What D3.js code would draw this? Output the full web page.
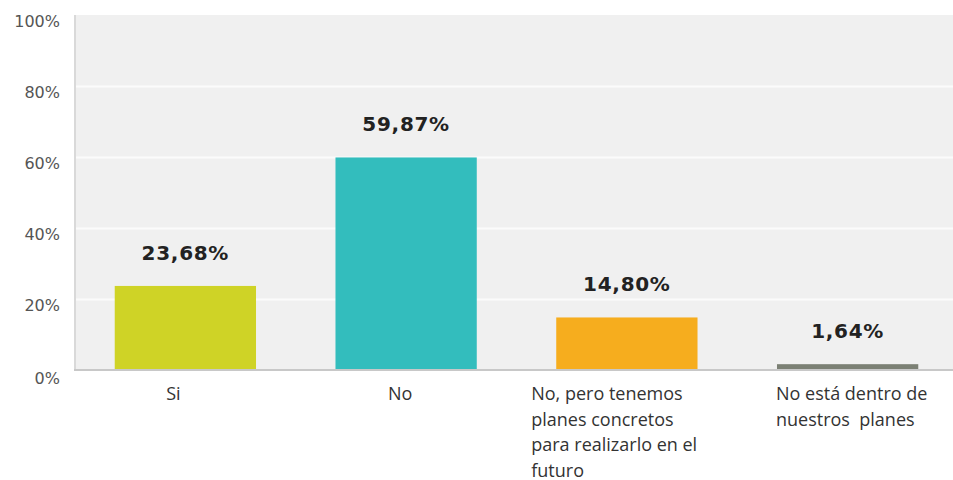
<!DOCTYPE html>
<html>
<head>
<meta charset="utf-8">
<script src="https://cdn.jsdelivr.net/npm/d3@7/dist/d3.min.js"></script>
<style>
  html, body { margin: 0; padding: 0; background: #ffffff; }
  svg { display: block; }
</style>
</head>
<body>
<div id="chart"></div>
<script>
// Survey answers and their shares (percent)
const categories = [
  "Si",
  "No",
  "No, pero tenemos planes concretos para realizarlo en el futuro",
  "No está dentro de nuestros planes"
];
const values = [23.68, 59.87, 14.80, 1.64];
const valueLabels = ["23,68%", "59,87%", "14,80%", "1,64%"];
const colors = ["#cfd326", "#33bdbd", "#f6ad1e", "#7b8074"];
const yTicks = [0, 20, 40, 60, 80, 100];
const yTickLabels = ["0%", "20%", "40%", "60%", "80%", "100%"];
// Manual line breaks for the category labels
const categoryLines = [
  ["Si"],
  ["No"],
  ["No, pero tenemos", "planes concretos", "para realizarlo en el", "futuro"],
  ["No está dentro de", "nuestros  planes"]
];

const W = 953, H = 480;
const plot = { left: 75, right: 958, top: 15, bottom: 370 };

const svg = d3.select("#chart").append("svg")
  .attr("width", W).attr("height", H);

const x = d3.scaleBand()
  .domain(categories)
  .range([plot.left, plot.right])
  .paddingInner(0.36)
  .paddingOuter(0.18);

const y = d3.scaleLinear()
  .domain([0, 100])
  .range([plot.bottom, plot.top]);

// Plot background
svg.append("rect")
  .attr("x", plot.left).attr("y", plot.top)
  .attr("width", W - plot.left).attr("height", plot.bottom - plot.top)
  .attr("fill", "#f0f0f0");

// Horizontal gridlines and percentage ticks
const yAxis = d3.axisLeft(y)
  .tickValues(yTicks)
  .tickSize(-(W - plot.left))
  .tickFormat((d, i) => yTickLabels[i]);

const gy = svg.append("g")
  .attr("transform", `translate(${plot.left},0)`)
  .call(yAxis);
gy.select(".domain").remove();
gy.selectAll(".tick line")
  .attr("stroke", "#fbfbfb")
  .attr("stroke-width", 2)
  .filter(d => d === 0 || d === 100).remove();
gy.selectAll(".tick text")
  .attr("x", -15)
  .attr("dy", "0.7em")
  .attr("fill", "#555")
  .style("font-family", "'DejaVu Sans', Verdana, sans-serif")
  .style("font-size", "16px");
gy.selectAll(".tick").filter(d => d === 0).select("text").attr("dy", "0.85em");

// Left border of the plot
svg.append("line")
  .attr("x1", plot.left).attr("x2", plot.left)
  .attr("y1", plot.top).attr("y2", plot.bottom)
  .attr("stroke", "#d9d9d9").attr("stroke-width", 2);

// Bars
svg.append("g").selectAll("rect")
  .data(values)
  .join("rect")
  .attr("x", (d, i) => x(categories[i]))
  .attr("y", d => y(d))
  .attr("width", x.bandwidth())
  .attr("height", d => y(0) - y(d))
  .attr("fill", (d, i) => colors[i]);

// Baseline
svg.append("line")
  .attr("x1", plot.left - 1).attr("x2", W)
  .attr("y1", plot.bottom).attr("y2", plot.bottom)
  .attr("stroke", "#c8c8c8").attr("stroke-width", 2);

// Value labels above bars
svg.append("g").selectAll("text")
  .data(values)
  .join("text")
  .attr("x", (d, i) => x(categories[i]) + x.bandwidth() / 2)
  .attr("y", d => y(d) - 26)
  .attr("text-anchor", "middle")
  .attr("fill", "#222")
  .style("font-family", "'DejaVu Sans', Verdana, sans-serif")
  .style("font-weight", "bold")
  .style("font-size", "20px")
  .style("letter-spacing", "0.7px")
  .text((d, i) => valueLabels[i]);

// Category labels below the axis
const labelFont = "'Open Sans', 'Noto Sans', sans-serif";
const cat = svg.append("g").selectAll("text")
  .data(categories)
  .join("text")
  .attr("fill", "#333")
  .style("font-family", labelFont)
  .style("font-size", "18px");

cat.each(function (c, i) {
  const lines = categoryLines[i];
  const t = d3.select(this);
  const multi = lines.length > 1;
  const cx = x(c) + x.bandwidth() / 2;
  t.attr("text-anchor", multi ? "start" : "middle");
  lines.forEach((ln, j) => {
    t.append("tspan")
      .attr("x", multi ? x(c) + (i === 2 ? -25 : -1) : cx - (i === 0 ? 12 : 6))
      .attr("y", 400 + j * 25.5)
      .style("white-space", "pre")
      .text(ln);
  });
});
</script>
</body>
</html>
